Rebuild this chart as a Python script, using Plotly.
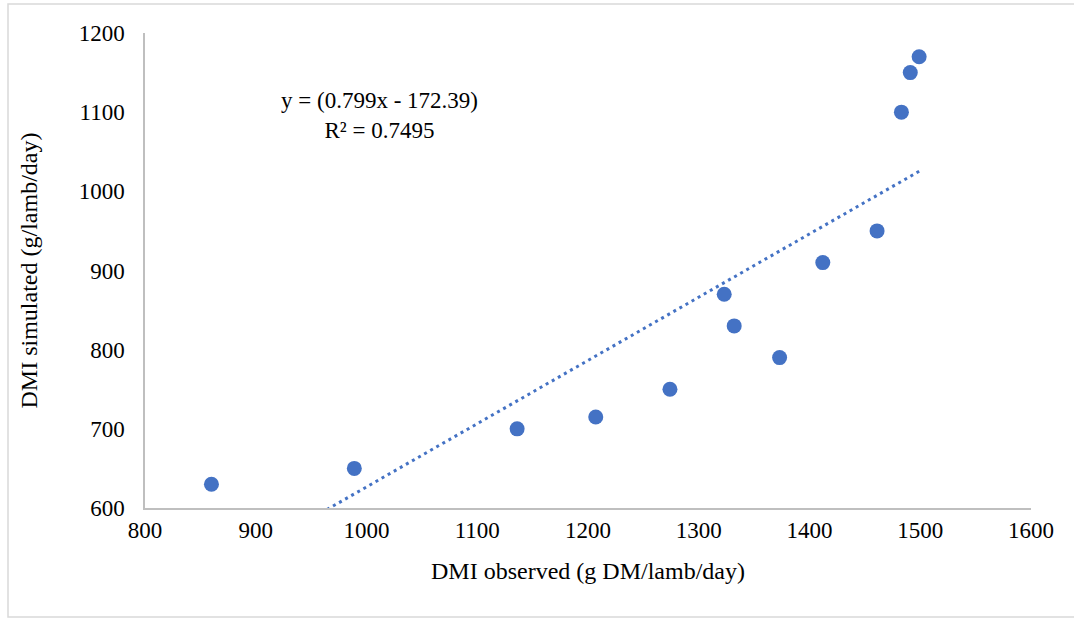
import plotly.graph_objects as go

# Data
dmi_observed = [860, 989, 1136, 1207, 1274, 1323, 1332, 1373, 1412, 1461, 1483, 1491, 1499]
dmi_simulated = [630, 650, 700, 715, 750, 870, 830, 790, 910, 950, 1100, 1150, 1170]
slope = 0.799
intercept = -172.39
r_squared = 0.7495
x_ticks = [800, 900, 1000, 1100, 1200, 1300, 1400, 1500, 1600]
y_ticks = [600, 700, 800, 900, 1000, 1100, 1200]

BLUE = "#4472C4"
FONT = "Liberation Serif, Times New Roman, serif"

trend_x = [min(dmi_observed), max(dmi_observed)]
trend_y = [slope * v + intercept for v in trend_x]

fig = go.Figure()
fig.add_trace(go.Scatter(
    x=trend_x, y=trend_y, mode="lines",
    line=dict(color=BLUE, width=3, dash="3px,4px"),
    hoverinfo="skip", showlegend=False,
))
fig.add_trace(go.Scatter(
    x=dmi_observed, y=dmi_simulated, mode="markers",
    marker=dict(color=BLUE, size=15, line=dict(width=0)),
    showlegend=False, cliponaxis=False,
))

W, H = 1074, 618
ml, mr, mt, mb = 145, 43, 33, 110
pw, ph = W - ml - mr, H - mt - mb

def px_to_paper_x(px):
    return (px - ml) / pw

def px_to_paper_y(py):
    return (H - mb - py) / ph

fig.add_shape(type="rect", xref="paper", yref="paper",
              x0=px_to_paper_x(8), x1=px_to_paper_x(1090),
              y0=px_to_paper_y(617), y1=px_to_paper_y(4),
              line=dict(color="#d9d9d9", width=1.5), fillcolor="rgba(0,0,0,0)",
              layer="below")

fig.add_annotation(
    x=px_to_paper_x(379), y=px_to_paper_y(115), xref="paper", yref="paper",
    xanchor="center", yanchor="middle",
    text=f"y = ({slope}x - {abs(intercept)})<br>R² = {r_squared}",
    showarrow=False, align="center",
    font=dict(family=FONT, size=23, color="#000000"),
)

fig.update_layout(
    width=W, height=H,
    margin=dict(l=ml, r=mr, t=mt, b=mb),
    paper_bgcolor="white", plot_bgcolor="white",
    font=dict(family=FONT, size=23, color="#000000"),
    xaxis=dict(
        range=[800, 1600], tickvals=x_ticks, ticks="", showgrid=False,
        zeroline=False, showline=True, linecolor="#bfbfbf", linewidth=1.5,
        title=dict(text="DMI observed (g DM/lamb/day)", font=dict(size=24), standoff=20),
        tickfont=dict(size=23), ticklabelstandoff=1,
    ),
    yaxis=dict(
        range=[600, 1200], tickvals=y_ticks, ticks="", showgrid=False,
        zeroline=False, showline=True, linecolor="#bfbfbf", linewidth=1.5,
        title=dict(text="DMI simulated (g/lamb/day)", font=dict(size=24), standoff=34),
        tickfont=dict(size=23), ticklabelstandoff=14,
    ),
)

fig.write_html("out.html")
